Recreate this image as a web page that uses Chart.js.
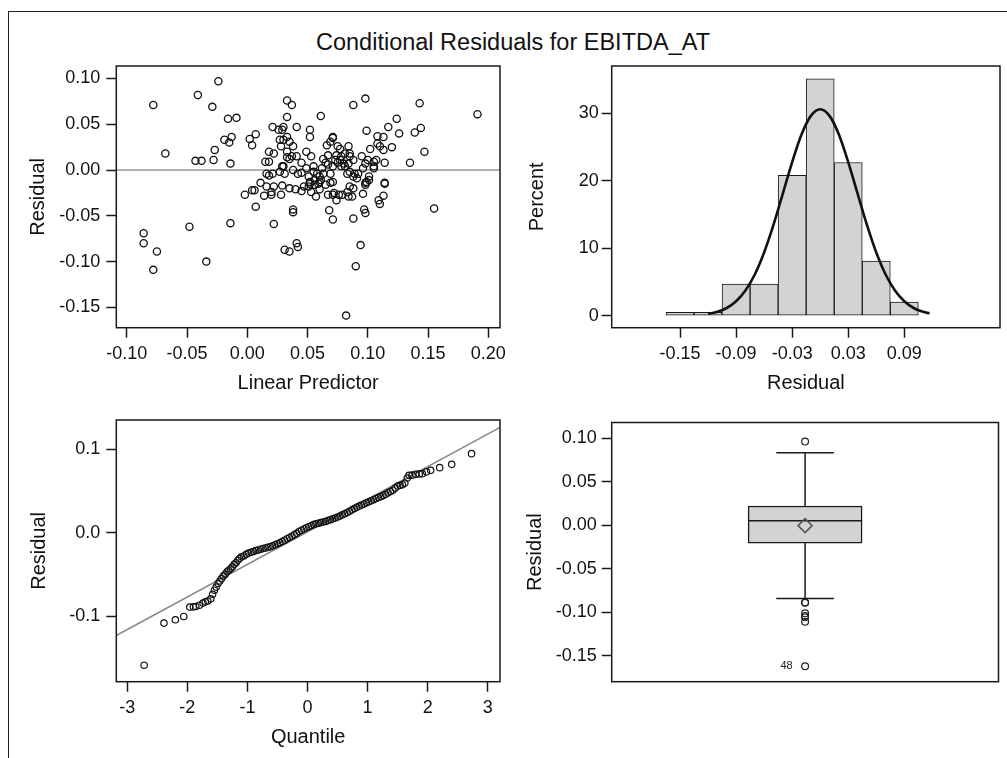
<!DOCTYPE html>
<html><head><meta charset="utf-8">
<script src="https://cdn.jsdelivr.net/npm/chart.js@4.4.1/dist/chart.umd.min.js"></script>
<style>
html,body{margin:0;padding:0;background:#fff;width:1007px;height:758px;overflow:hidden;font-family:'Liberation Sans',Arial,sans-serif;}
#frame{position:absolute;left:8px;top:11px;width:1100px;height:800px;border-top:1px solid #222;border-left:1px solid #222;}
#title{position:absolute;left:13px;top:29px;width:1000px;text-align:center;font-size:23.5px;line-height:26px;color:#111;}
canvas{position:absolute;}
</style></head><body>
<div id="frame"></div>
<div id="title">Conditional Residuals for EBITDA_AT</div>
<canvas id="c1" width="510" height="340" style="left:0;top:60px"></canvas>
<canvas id="c2" width="502" height="340" style="left:505px;top:60px"></canvas>
<canvas id="c3" width="510" height="340" style="left:0;top:414px"></canvas>
<canvas id="c4" width="502" height="340" style="left:505px;top:414px"></canvas>
<script>
// ---------- DATA ----------
const linearPredictor = [-0.078,-0.024,-0.041,-0.029,-0.016,-0.009,-0.068,-0.043,-0.038,-0.028,-0.027,-0.019,-0.015,-0.013,-0.014,-0.086,-0.086,-0.075,-0.078,-0.048,-0.034,-0.014,0.082,0.191,0.155,0.147,0.143,0.144,0.139,0.135,0.124,0.126,0.120,0.117,0.113,0.108,0.108,0.110,0.113,0.114,0.107,0.102,0.099,0.098,0.088,0.114,0.114,0.113,0.109,0.110,0.097,0.098,0.088,0.094,0.090,0.068,0.071,0.022,0.007,0.038,0.038,0.041,0.042,0.031,0.035,-0.002,0.006,0.011,0.014,0.020,0.022,0.018,0.020,0.015,0.018,0.018,0.022,0.021,0.002,0.004,0.007,0.028,0.029,0.031,0.027,0.030,0.027,0.029,0.030,0.033,0.033,0.037,0.028,0.033,0.035,0.038,0.035,0.033,0.041,0.035,0.040,0.045,0.041,0.045,0.045,0.049,0.052,0.052,0.053,0.049,0.052,0.051,0.055,0.058,0.057,0.053,0.056,0.059,0.061,0.063,0.065,0.065,0.061,0.066,0.069,0.071,0.067,0.069,0.071,0.072,0.071,0.076,0.073,0.075,0.077,0.078,0.077,0.080,0.081,0.084,0.085,0.085,0.084,0.083,0.085,0.085,0.083,0.084,0.088,0.087,0.089,0.092,0.091,0.095,0.096,0.099,0.098,0.101,0.098,0.100,0.105,0.105,0.078,0.071,0.063,0.069,0.060,0.051,0.052,0.056,0.042,0.038,0.029,0.016,0.016,0.004,0.030,0.033,0.026,0.071,0.062,0.074,0.079,0.101,0.060,0.055,0.081,0.088,0.088,0.074,0.067,0.037,0.047,0.021,0.098,0.105,0.075,0.060,0.067,0.096];
const residual = [0.071,0.097,0.082,0.069,0.056,0.057,0.018,0.010,0.010,0.011,0.022,0.033,0.030,0.036,0.007,-0.069,-0.080,-0.089,-0.109,-0.062,-0.100,-0.058,-0.159,0.061,-0.042,0.020,0.073,0.046,0.041,0.008,0.056,0.040,0.025,0.047,0.036,0.037,0.029,0.026,0.022,0.008,0.011,0.023,0.043,0.078,0.071,-0.014,-0.015,-0.028,-0.033,-0.037,-0.043,-0.047,-0.053,-0.082,-0.105,-0.044,-0.054,-0.059,-0.040,-0.043,-0.046,-0.080,-0.084,-0.087,-0.089,-0.027,-0.022,-0.014,-0.028,-0.024,-0.018,-0.006,-0.027,0.009,0.009,0.020,0.018,0.047,0.034,0.027,0.039,-0.027,-0.017,-0.004,-0.002,0.004,0.033,0.044,0.047,0.058,0.076,0.071,0.026,0.020,0.031,0.026,0.012,0.014,0.047,-0.020,-0.021,-0.023,0.015,0.008,-0.003,0.020,0.044,0.036,0.015,0.002,-0.013,-0.018,0.004,-0.004,-0.029,-0.024,-0.011,-0.015,0.059,0.012,0.008,-0.016,-0.011,0.027,0.031,0.035,0.016,-0.004,-0.013,-0.025,-0.027,-0.027,0.011,0.008,0.011,0.015,0.023,0.007,0.018,0.026,0.018,0.015,0.007,-0.004,-0.002,-0.018,-0.024,-0.029,-0.020,-0.029,-0.004,-0.004,-0.009,0.015,-0.026,-0.013,-0.016,-0.011,0.007,0.011,0.004,0.002,0.004,0.004,-0.004,-0.014,-0.007,-0.007,-0.015,-0.016,-0.004,0.000,0.004,-0.004,-0.018,-0.022,0.033,0.036,0.044,0.036,0.002,-0.033,-0.027,-0.007,-0.013,-0.002,0.004,0.011,-0.007,0.016,0.006,0.015,-0.018,-0.004,-0.014,0.009,0.026,-0.021,-0.027,0.002];

const histMidpoints = [-0.15,-0.12,-0.09,-0.06,-0.03,0.00,0.03,0.06,0.09];
const histPercent   = [0.5,0.5,4.7,4.7,20.8,35.1,22.7,8.1,2.0];
const normalCurveX = [-0.120,-0.110,-0.100,-0.090,-0.080,-0.070,-0.060,-0.050,-0.040,-0.030,-0.020,-0.010,0.000,0.010,0.020,0.030,0.040,0.050,0.060,0.070,0.080,0.090,0.100,0.110,0.117];
const normalCurveY = [0.27,0.57,1.14,2.14,3.73,6.11,9.37,13.45,18.08,22.76,26.84,29.61,30.6,29.61,26.84,22.76,18.08,13.45,9.37,6.11,3.73,2.14,1.14,0.57,0.35];

const qqQuantile = [-2.72,-2.39,-2.20,-2.06,-1.96,-1.90,-1.86,-1.80,-1.74,-1.70,-1.66,-1.61,-1.58,-1.55,-1.52,-1.49,-1.46,-1.43,-1.40,-1.37,-1.34,-1.31,-1.28,-1.25,-1.22,-1.19,-1.16,-1.13,-1.10,-1.06,-1.02,-0.98,-0.94,-0.90,-0.86,-0.82,-0.78,-0.74,-0.70,-0.66,-0.62,-0.58,-0.54,-0.50,-0.46,-0.42,-0.38,-0.34,-0.30,-0.26,-0.22,-0.18,-0.14,-0.10,-0.06,-0.02,0.02,0.06,0.10,0.14,0.18,0.22,0.26,0.30,0.34,0.38,0.42,0.46,0.50,0.54,0.58,0.62,0.66,0.70,0.74,0.78,0.82,0.86,0.90,0.94,0.98,1.02,1.06,1.10,1.14,1.18,1.22,1.26,1.30,1.34,1.38,1.42,1.46,1.50,1.54,1.58,1.62,1.66,1.69,1.74,1.80,1.86,1.91,1.98,2.05,2.20,2.40,2.73];
const qqResidual = [-0.159,-0.1085,-0.1045,-0.1005,-0.0893,-0.089,-0.0885,-0.087,-0.0845,-0.083,-0.082,-0.0793,-0.074,-0.069,-0.0653,-0.061,-0.058,-0.055,-0.052,-0.050,-0.047,-0.045,-0.0433,-0.041,-0.038,-0.036,-0.033,-0.031,-0.029,-0.028,-0.026,-0.0245,-0.0235,-0.0225,-0.0215,-0.0207,-0.0198,-0.019,-0.0183,-0.0176,-0.0168,-0.0158,-0.0145,-0.0132,-0.0121,-0.0107,-0.009,-0.0072,-0.0058,-0.0042,-0.0025,-0.0008,0.0015,0.003,0.0045,0.006,0.0072,0.0083,0.0097,0.0107,0.0114,0.0121,0.0128,0.0135,0.0145,0.0155,0.0166,0.0176,0.0188,0.020,0.0215,0.0228,0.0243,0.0258,0.0274,0.029,0.0305,0.032,0.0333,0.0345,0.0358,0.037,0.0383,0.0396,0.041,0.0422,0.0433,0.0445,0.046,0.0478,0.0495,0.051,0.0535,0.056,0.0568,0.0575,0.0595,0.0655,0.0688,0.069,0.070,0.0705,0.0708,0.073,0.0748,0.078,0.082,0.0948];
const qqRefLineX = [-3.183, 3.204];
const qqRefLineY = [-0.1234, 0.1262];

const boxQ1 = -0.0205, boxMedian = 0.0050, boxQ3 = 0.0220, boxMean = -0.0005;
const boxWhiskerLow = -0.0842, boxWhiskerHigh = 0.0830;
const boxOutliers = [0.0959, -0.0886, -0.0890, -0.1011, -0.1040, -0.1057, -0.1106, -0.1617];
const boxOutlierLabels = [{value: -0.1617, text: '48'}];

const scatterXTicks = [-0.10,-0.05,0.00,0.05,0.10,0.15,0.20];
const scatterYTicks = [-0.15,-0.10,-0.05,0.00,0.05,0.10];
const histXTicks = [-0.15,-0.09,-0.03,0.03,0.09];
const histYTicks = [0,10,20,30];
const qqXTicks = [-3,-2,-1,0,1,2,3];
const qqYTicks = [-0.1,0.0,0.1];
const boxYTicks = [-0.15,-0.10,-0.05,0.00,0.05,0.10];

// ---------- STYLE / HELPERS ----------
Chart.defaults.font.family = "'Liberation Sans', Arial, Helvetica, sans-serif";
Chart.defaults.color = '#111';
const INK = '#1a1a1a';

const framePlugin = {
  id: 'frameBox',
  afterDatasetsDraw(chart) {
    const {ctx, chartArea: a} = chart;
    ctx.save();
    ctx.strokeStyle = INK; ctx.lineWidth = 1.5;
    ctx.strokeRect(a.left, a.top, a.right - a.left, a.bottom - a.top);
    ctx.restore();
  }
};

function axis(o) {
  return {
    type: 'linear', position: o.position, min: o.min, max: o.max, display: o.display !== false, offset: false,
    afterBuildTicks: s => { s.ticks = o.ticks.map(v => ({value: v})); },
    afterFit: s => {
      if (o.size != null) { if (o.position === 'left') s.width = o.size; else s.height = o.size; }
      s.paddingTop = 0; s.paddingBottom = 0; s.paddingLeft = 0; s.paddingRight = 0;
    },
    grid: {display: true, offset: false, drawOnChartArea: false, drawTicks: true, tickLength: 10, tickColor: INK, tickWidth: 1.5},
    border: {display: false},
    ticks: {padding: o.pad, color: '#111', font: {size: 18, lineHeight: 1}, autoSkip: false, maxRotation: 0,
            callback: v => o.fmt(v)},
    title: {display: !!o.title, text: o.title, color: '#111', font: {size: 20}, padding: o.titlePad || 0}
  };
}
const baseOpts = (padding, scales) => ({
  responsive: false, animation: false, events: [],
  layout: {padding},
  plugins: {legend: {display: false}, tooltip: {enabled: false}},
  scales
});
const f2 = v => v.toFixed(2);
const f1 = v => v.toFixed(1);
const f0 = v => String(Math.round(v));

// ---------- PANEL 1: residual vs linear predictor ----------
const sMinX = -0.1087, sMaxX = 0.2097;
new Chart(document.getElementById('c1'), {
  type: 'scatter',
  data: {datasets: [
    {data: linearPredictor.map((x, i) => ({x, y: residual[i]})), pointStyle: 'circle', pointRadius: 3.6,
     borderColor: '#111', borderWidth: 1.3, backgroundColor: 'rgba(0,0,0,0)', order: 1},
    {type: 'line', data: [{x: sMinX, y: 0}, {x: sMaxX, y: 0}], borderColor: '#999', borderWidth: 1.5,
     pointRadius: 0, order: 2}
  ]},
  options: baseOpts({left: 0, top: 6, right: 10, bottom: 0}, {
    x: axis({position: 'bottom', min: sMinX, max: sMaxX, ticks: scatterXTicks, fmt: f2, pad: 7, size: 72.3,
             title: 'Linear Predictor', titlePad: {top: 0, bottom: 5}}),
    y: axis({position: 'left', min: -0.1722, max: 0.1136, ticks: scatterYTicks, fmt: f2, pad: 6, size: 116.3,
             title: 'Residual', titlePad: {top: 26, bottom: 0}})
  }),
  plugins: [framePlugin]
});

// ---------- PANEL 2: histogram ----------
new Chart(document.getElementById('c2'), {
  type: 'bar',
  data: {datasets: [
    {type: 'line', data: normalCurveX.map((x, i) => ({x, y: normalCurveY[i]})), borderColor: '#111',
     borderWidth: 2.6, pointRadius: 0, tension: 0.4, cubicInterpolationMode: 'monotone', order: 0},
    {type: 'bar', data: histMidpoints.map((x, i) => ({x, y: histPercent[i]})), backgroundColor: '#d3d3d3',
     borderColor: INK, borderWidth: 1, borderSkipped: false, barPercentage: 1, categoryPercentage: 1, order: 1}
  ]},
  options: baseOpts({left: 0, top: 6, right: 7, bottom: 0}, {
    x: axis({position: 'bottom', min: -0.2231, max: 0.1924, ticks: histXTicks, fmt: f2, pad: 7, size: 72.3,
             title: 'Residual', titlePad: {top: 0, bottom: 5}}),
    y: axis({position: 'left', min: -1.78, max: 37.0, ticks: histYTicks, fmt: f0, pad: 3, size: 106.7,
             title: 'Percent', titlePad: {top: 20, bottom: 0}})
  }),
  plugins: [framePlugin]
});

// ---------- PANEL 3: Q-Q plot ----------
new Chart(document.getElementById('c3'), {
  type: 'scatter',
  data: {datasets: [
    {data: qqQuantile.map((x, i) => ({x, y: qqResidual[i]})), pointStyle: 'circle', pointRadius: 3.2,
     borderColor: '#111', borderWidth: 1.2, backgroundColor: 'rgba(0,0,0,0)', order: 1},
    {type: 'line', data: qqRefLineX.map((x, i) => ({x, y: qqRefLineY[i]})), borderColor: '#888',
     borderWidth: 1.5, pointRadius: 0, order: 2}
  ]},
  options: baseOpts({left: 0, top: 6, right: 10, bottom: 0}, {
    x: axis({position: 'bottom', min: -3.183, max: 3.204, ticks: qqXTicks, fmt: f0, pad: 7, size: 72.3,
             title: 'Quantile', titlePad: {top: 0, bottom: 5}}),
    y: axis({position: 'left', min: -0.1788, max: 0.1352, ticks: qqYTicks, fmt: f1, pad: 6, size: 116.3,
             title: 'Residual', titlePad: {top: 27.5, bottom: 0}})
  }),
  plugins: [framePlugin]
});

// ---------- PANEL 4: box plot ----------
const BOX_HALF = 0.295, CAP_HALF = 0.149;
const seg = (x1, y1, x2, y2) => ({type: 'line', data: [{x: x1, y: y1}, {x: x2, y: y2}], borderColor: INK,
  borderWidth: 1.5, pointRadius: 0, order: 1});
const labelPlugin = {
  id: 'outlierLabels',
  afterDatasetsDraw(chart) {
    const {ctx, scales: {x, y}} = chart;
    ctx.save();
    ctx.font = "11px 'Liberation Sans', Arial, sans-serif";
    ctx.fillStyle = '#222'; ctx.textAlign = 'center'; ctx.textBaseline = 'middle';
    boxOutlierLabels.forEach(l => ctx.fillText(l.text, x.getPixelForValue(0) - 18.5, y.getPixelForValue(l.value)));
    ctx.restore();
  }
};
new Chart(document.getElementById('c4'), {
  type: 'bar',
  data: {datasets: [
    {type: 'bar', data: [{x: 0, y: [boxQ1, boxQ3]}], backgroundColor: '#d3d3d3', borderColor: INK,
     borderWidth: 1.5, borderSkipped: false, barThickness: 114, order: 3},
    seg(-BOX_HALF, boxMedian, BOX_HALF, boxMedian),
    seg(0, boxQ3, 0, boxWhiskerHigh),
    seg(0, boxQ1, 0, boxWhiskerLow),
    seg(-CAP_HALF, boxWhiskerHigh, CAP_HALF, boxWhiskerHigh),
    seg(-CAP_HALF, boxWhiskerLow, CAP_HALF, boxWhiskerLow),
    {type: 'scatter', data: [{x: 0, y: boxMean}], pointStyle: 'rectRot', pointRadius: 7, borderColor: '#555',
     borderWidth: 1.5, backgroundColor: 'rgba(0,0,0,0)', order: 0},
    {type: 'scatter', data: boxOutliers.map(v => ({x: 0, y: v})), pointStyle: 'circle', pointRadius: 3.4,
     borderColor: '#222', borderWidth: 1.2, backgroundColor: 'rgba(0,0,0,0)', order: 0}
  ]},
  options: baseOpts({left: 0, top: 6, right: 7, bottom: 72.3}, {
    x: {type: 'linear', min: -1, max: 1, display: false, offset: false, grid: {offset: false}},
    y: axis({position: 'left', min: -0.1795, max: 0.1178, ticks: boxYTicks, fmt: f2, pad: 5, size: 106.7,
             title: 'Residual', titlePad: {top: 18, bottom: 0}})
  }),
  plugins: [framePlugin, labelPlugin]
});
</script>
</body></html>
